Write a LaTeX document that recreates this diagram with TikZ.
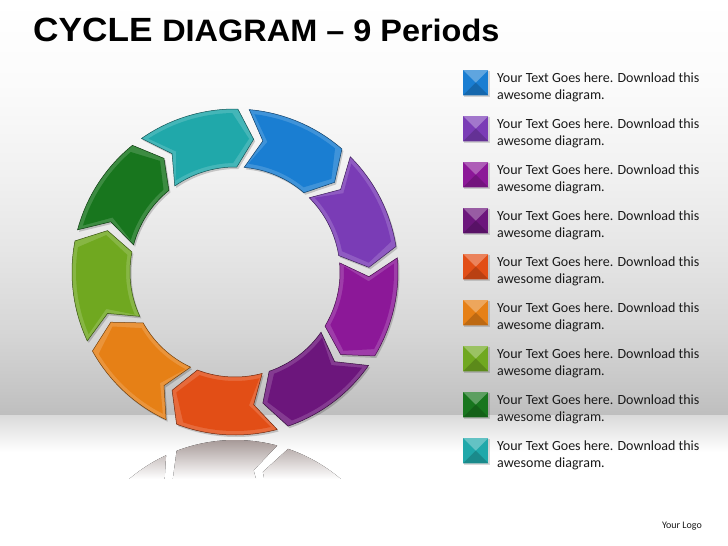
\documentclass[tikz,border=0pt]{standalone}
\usepackage{fontspec}
\setmainfont{Carlito}
\newfontfamily\titlefont{Liberation Sans}
\usetikzlibrary{calc}
\definecolor{cblue}{RGB}{26,126,210}
\definecolor{cviolet}{RGB}{122,60,182}
\definecolor{cmagenta}{RGB}{140,24,152}
\definecolor{cdpurple}{RGB}{108,22,124}
\definecolor{cred}{RGB}{226,78,22}
\definecolor{corange}{RGB}{230,128,22}
\definecolor{clgreen}{RGB}{112,168,32}
\definecolor{cgreen}{RGB}{24,118,30}
\definecolor{cteal}{RGB}{32,168,170}
\definecolor{reflc}{RGB}{160,146,144}
\definecolor{bgA}{RGB}{190,190,190}
\definecolor{bgB}{RGB}{198,198,198}
\definecolor{bgC}{RGB}{214,214,214}
\definecolor{bgD}{RGB}{230,230,230}
\definecolor{bgE}{RGB}{242,242,242}
\definecolor{bgF}{RGB}{251,251,251}
\definecolor{floorc}{RGB}{218,218,218}
\definecolor{txt}{RGB}{26,26,26}
\pgfdeclareverticalshading{bgshade}{100bp}{color(0bp)=(bgA); color(25bp)=(bgA); color(28bp)=(bgB); color(35bp)=(bgC); color(45bp)=(bgD); color(55bp)=(bgE); color(65bp)=(bgF); color(75bp)=(white); color(100bp)=(white)}
\newcommand{\segshape}[4]{(#1:#3) arc[start angle=#1, end angle=#2, radius=#3] -- (#2-7:{(#3+#4)/2}) -- (#2:#4) arc[start angle=#2, end angle=#1, radius=#4] -- (#1-7:{(#3+#4)/2}) -- cycle}
\newcommand{\drawseg}[2]{%
  \pgfmathsetmacro\segt{#2+18}%
  \pgfmathsetmacro\segh{#2-18}%
  \pgfmathsetmacro\segti{#2+16}%
  \pgfmathsetmacro\seghi{#2-16}%
  \fill[black,opacity=.18,shift={(1.5,-2)}] \segshape{\segt}{\segh}{163}{105};
  \fill[#1!84!white] \segshape{\segt}{\segh}{163}{105};
  \fill[#1] \segshape{\segti}{\seghi}{159}{109};
  \draw[#1!50!black, line width=.5pt] \segshape{\segt}{\segh}{163}{105};
}
\tikzset{
  legtext/.style={anchor=north west, align=left, inner sep=0pt, text=txt,
    font=\fontsize{14}{17}\selectfont},
  legbox/.style={minimum size=25pt, inner sep=0pt, anchor=north west, draw=none},
}
\begin{document}
\begin{tikzpicture}[x=1pt,y=-1pt]
\useasboundingbox (0,0) rectangle (728,546);
\fill[white] (0,0) rectangle (728,546);
\fill[shading=bgshade] (0,0) rectangle (728,415);
\fill[top color=floorc, bottom color=white] (0,415) rectangle (728,452);
% title
\node[anchor=base west, inner sep=0pt] (title) at (33,41)
  {\titlefont\bfseries\scalebox{1.1}[1.05]{\fontsize{32}{36}\selectfont CYCLE {\fontsize{29.5}{34}\selectfont DIAGRAM – 9 Periods}}};
% reflection
\begin{scope}[shift={(235,603)}]
  \clip \segshape{-35}{-71}{163}{105} \segshape{-75}{-111}{163}{105} \segshape{-115}{-151}{163}{105};
  \fill[top color=reflc, bottom color=white] (-140,-166) rectangle (140,-124);
\end{scope}
% ring
\begin{scope}[shift={(235,272)}, yscale=-1]
  \foreach \c [count=\k from 0] in {cblue,cviolet,cmagenta,cdpurple,cred,corange,clgreen,cgreen,cteal} {
    \pgfmathsetmacro\cen{67-40*\k}
    \drawseg{\c}{\cen}
  }
\end{scope}
% legend
\foreach \c [count=\i from 0] in {cblue,cviolet,cmagenta,cdpurple,cred,corange,clgreen,cgreen,cteal} {
  \fill[black,opacity=.15] (464,{71+46*\i}) rectangle (490,{97+46*\i});
  \node[legbox, fill=\c] (s\i) at (463,{70+46*\i}) {};
  \fill[\c!70!white] (s\i.north west) -- (s\i.north east) -- (s\i.center) -- cycle;
  \fill[\c!82!black] (s\i.south west) -- (s\i.south east) -- (s\i.center) -- cycle;
  \node[legtext] (t\i) at (497,{73+46*\i}) {Your Text Goes here. Download this\\awesome diagram.};
}
\node[anchor=base east, inner sep=0pt, text=txt, font=\fontsize{10}{12}\selectfont] (logo) at (702,528) {Your Logo};
\end{tikzpicture}
\end{document}
